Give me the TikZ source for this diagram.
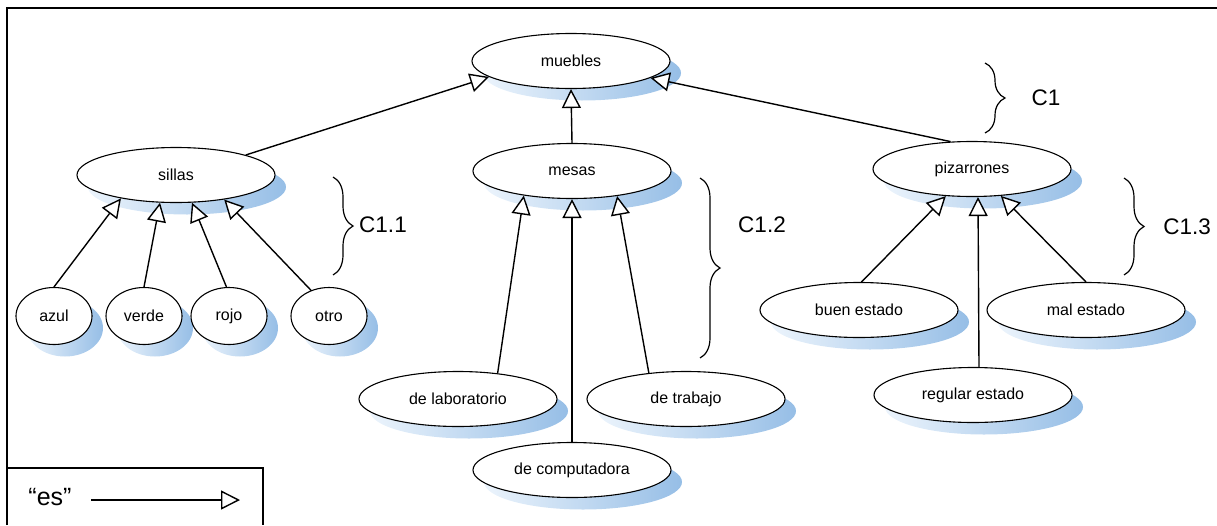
\documentclass[tikz,border=0pt]{standalone}
\usepackage{fontspec}
\setmainfont{Liberation Sans}
\usetikzlibrary{shapes.geometric,arrows.meta,decorations.pathreplacing,shadows}
\definecolor{shL}{RGB}{236,244,252}
\definecolor{shR}{RGB}{150,190,230}
\begin{document}
\begin{tikzpicture}[x=1pt,y=-1pt,
  ent/.style={ellipse, draw=black, line width=1.1pt, fill=white, inner sep=0pt,
    font=\fontsize{16}{19}\selectfont,
    general shadow={shadow xshift=11pt, shadow yshift=-12pt, left color=shL, right color=shR, draw=none}},
  big/.style={ent, minimum width=198pt, minimum height=55pt},
  small/.style={ent, minimum width=76pt, minimum height=57pt},
  es/.style={line width=1.4pt, -{Triangle[length=19pt,width=19pt,fill=white,line width=1.4pt]}},
  br/.style={decorate, decoration={brace, amplitude=20pt}, line width=1.2pt},
  lab/.style={font=\fontsize{22.5}{26}\selectfont}
]
\useasboundingbox (0,0) rectangle (1217,525);
% frame
\draw[line width=1.4pt] (7,525) -- (7,8) -- (1217,8);
\draw[line width=1.4pt] (7,468) -- (263,468) -- (263,525);

% nodes
\node[big] (muebles) at (571,61) {muebles};
\node[big] (sillas) at (176,175) {sillas};
\node[big] (mesas) at (572,171) {mesas};
\node[big] (pizarrones) at (972,169) {pizarrones};
\node[small] (azul) at (54,316) {azul};
\node[small] (verde) at (144,316) {verde};
\node[small] (rojo) at (229,316) {rojo};
\node[small] (otro) at (329,316) {otro};
\node[big] (lab) at (458,399) {de laboratorio};
\node[big] (trabajo) at (686,399) {de trabajo};
\node[big] (comp) at (572,470) {de computadora};
\node[big] (buen) at (859,310) {buen estado};
\node[big] (mal) at (1086,310) {mal estado};
\node[big] (regular) at (973,395) {regular estado};

% edges
\draw[es] (sillas.16) -- (muebles.191);
\draw[es] (mesas.north) -- (muebles.south);
\draw[es] (pizarrones.128) -- (muebles.348);
\draw[es] (azul.north) -- (sillas.203);
\draw[es] (verde.north) -- (sillas.240);
\draw[es] (rojo.95) -- (sillas.300);
\draw[es] (otro.125) -- (sillas.333);
\draw[es] (lab.33) -- (mesas.207);
\draw[es] (comp.north) -- (mesas.south);
\draw[es] (trabajo.145) -- (mesas.331);
\draw[es] (buen.85) -- (pizarrones.226);
\draw[es] ([xshift=6pt]regular.north) -- ([xshift=6pt]pizarrones.south);
\draw[es] (mal.north) -- (pizarrones.317);

% braces
\coordinate (b1a) at (985,63);   \coordinate (b1b) at (985,133);
\coordinate (b2a) at (333,177);  \coordinate (b2b) at (333,275);
\coordinate (b3a) at (700,178);  \coordinate (b3b) at (700,358);
\coordinate (b4a) at (1124,178); \coordinate (b4b) at (1124,275);
\draw[br] (b1a) -- (b1b);
\draw[br] (b2a) -- (b2b);
\draw[br] (b3a) -- (b3b);
\draw[br] (b4a) -- (b4b);
\node[lab] (c1) at (1046,98) {C1};
\node[lab] (c11) at (383,225) {C1.1};
\node[lab] (c12) at (762,225) {C1.2};
\node[lab] (c13) at (1187,227) {C1.3};

% legend
\node[font=\fontsize{25}{29}\selectfont] (esl) at (50,497) {“es”};
\coordinate (la) at (91,500);
\coordinate (lb) at (240,500);
\draw[es] (la) -- (lb);
\end{tikzpicture}
\end{document}
